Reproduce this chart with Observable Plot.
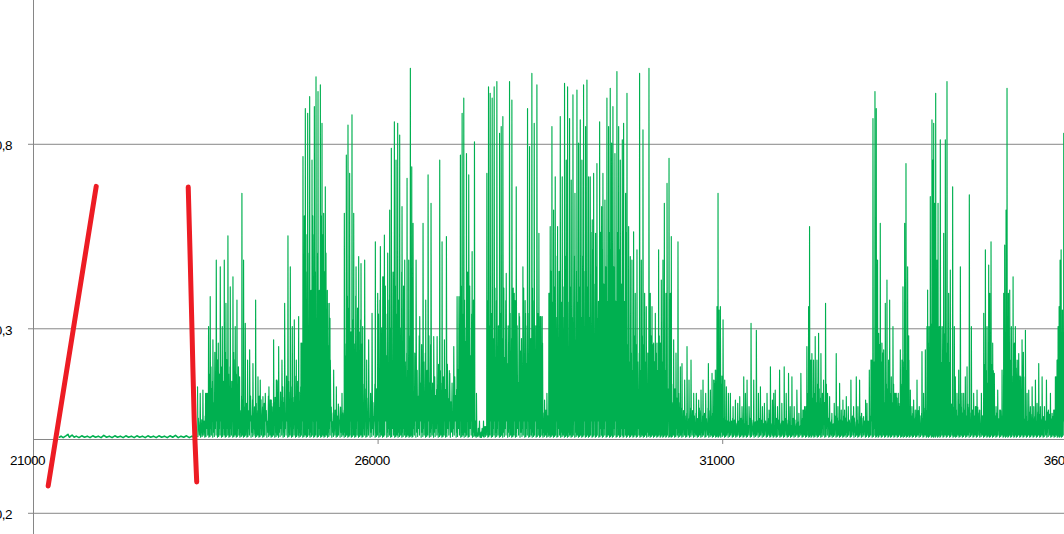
<!DOCTYPE html>
<html><head><meta charset="utf-8">
<script src="https://cdn.jsdelivr.net/npm/d3@7"></script>
<script src="https://cdn.jsdelivr.net/npm/@observablehq/plot@0.6"></script>
<style>html,body{margin:0;padding:0;background:#fff;overflow:hidden}#chart{width:1064px;height:534px;overflow:hidden}</style>
</head><body><div id="chart"></div>
<script>
const xTicks = [21000, 26000, 31000, 36000];
const yTicks = [-0.2, 0.3, 0.8];
const yTickLabels = ["-0,2", "0,3", "0,8"];

// quiet start of the series
const flatSeries = [[21377,0.006],[21400,0.009],[21430,0.005],[21470,0.010],[21500,0.014],[21520,0.006],[21545,0.010],[21560,0.012],[21590,0.006],[21620,0.009],[21660,0.005],[21700,0.010],[21740,0.006],[21780,0.009],[21820,0.005],[21860,0.010],[21900,0.006],[21940,0.009],[21980,0.005],[22020,0.011],[22060,0.006],[22100,0.009],[22140,0.005],[22180,0.010],[22220,0.006],[22260,0.009],[22300,0.005],[22340,0.010],[22380,0.006],[22420,0.009],[22460,0.005],[22500,0.010],[22540,0.006],[22580,0.009],[22620,0.005],[22660,0.010],[22700,0.006],[22740,0.009],[22780,0.005],[22820,0.010],[22860,0.006],[22900,0.009],[22940,0.005],[22980,0.010],[23020,0.006],[23060,0.011],[23100,0.005],[23140,0.009],[23180,0.006],[23220,0.010],[23260,0.005],[23300,0.009],[23340,0.006],[23370,0.008]];

// spike tops
const peaks = [[23380,0.143],[23419,0.125],[23458,0.134],[23497,0.125],[23540,0.306],[23564,0.387],[23603,0.270],[23652,0.486],[23681,0.261],[23710,0.468],[23739,0.306],[23768,0.486],[23792,0.369],[23821,0.552],[23855,0.414],[23894,0.441],[23927,0.306],[23952,0.378],[23990,0.170],[24024,0.667],[24048,0.486],[24073,0.315],[24106,0.215],[24136,0.243],[24184,0.206],[24223,0.378],[24257,0.170],[24290,0.161],[24329,0.116],[24363,0.125],[24416,0.143],[24450,0.107],[24484,0.270],[24523,0.161],[24557,0.252],[24605,0.215],[24644,0.369],[24692,0.552],[24726,0.468],[24755,0.306],[24784,0.324],[24813,0.215],[24847,0.333],[24881,0.261],[24910,0.767],[24944,0.897],[24978,0.884],[25007,0.929],[25041,0.757],[25075,0.902],[25099,0.983],[25128,0.943],[25162,0.961],[25186,0.857],[25210,0.613],[25234,0.685],[25268,0.369],[25307,0.215],[25355,0.188],[25394,0.143],[25428,0.089],[25476,0.125],[25510,0.613],[25539,0.771],[25563,0.852],[25587,0.721],[25621,0.880],[25646,0.613],[25680,0.468],[25718,0.496],[25752,0.477],[25776,0.306],[25805,0.486],[25834,0.215],[25863,0.270],[25912,0.342],[25960,0.536],[25994,0.396],[26033,0.523],[26067,0.441],[26091,0.554],[26139,0.505],[26168,0.622],[26192,0.789],[26236,0.861],[26260,0.757],[26284,0.857],[26313,0.825],[26347,0.631],[26386,0.486],[26420,0.708],[26444,0.486],[26468,1.006],[26488,0.739],[26507,0.586],[26551,0.486],[26604,0.333],[26652,0.586],[26691,0.378],[26725,0.717],[26768,0.640],[26807,0.279],[26856,0.279],[26894,0.757],[26928,0.536],[26962,0.270],[26991,0.550],[27040,0.179],[27098,0.252],[27146,0.387],[27194,0.771],[27219,0.884],[27243,0.925],[27282,0.775],[27315,0.717],[27364,0.509],[27398,0.807],[27427,0.125],[27465,0.017],[27505,0.021],[27539,0.035],
[27578,0.721],[27602,0.956],[27626,0.938],[27655,0.925],[27684,0.956],[27723,0.970],[27762,0.830],[27786,0.848],[27810,0.875],[27859,0.450],[27907,0.970],[27941,0.920],[27975,0.396],[28004,0.685],[28052,0.333],[28101,0.468],[28139,0.342],[28168,0.897],[28197,0.794],[28231,0.992],[28265,0.857],[28304,0.961],[28333,0.559],[28352,0.333],[28386,0.261],[28415,0.107],[28449,0.125],[28478,0.396],[28497,0.577],[28522,0.848],[28546,0.622],[28570,0.712],[28604,0.577],[28643,0.875],[28672,0.712],[28705,0.965],[28730,0.757],[28749,0.956],[28778,0.870],[28802,0.703],[28827,0.934],[28856,0.667],[28885,0.947],[28909,0.803],[28933,0.866],[28957,0.757],[28981,0.961],[29010,0.848],[29030,0.974],[29054,0.712],[29078,0.712],[29107,0.595],[29127,0.721],[29155,0.559],[29175,0.748],[29214,0.861],[29243,0.631],[29262,0.721],[29291,0.649],[29320,0.925],[29344,0.848],[29368,0.952],[29388,0.803],[29407,0.902],[29436,0.775],[29465,0.997],[29490,0.848],[29514,0.757],[29543,0.812],[29562,0.857],[29591,0.667],[29611,0.938],[29635,0.577],[29659,0.496],[29683,0.486],[29707,0.563],[29731,0.396],[29756,0.514],[29794,0.992],[29819,0.486],[29843,0.839],[29867,0.396],[29891,0.360],[29930,1.006],[29949,0.396],[29974,0.360],[29998,0.261],[30022,0.342],[30046,0.261],[30070,0.514],[30095,0.261],[30109,0.432],[30133,0.486],[30153,0.640],[30177,0.396],[30192,0.694],[30221,0.762],[30240,0.396],[30254,0.550],[30288,0.270],[30322,0.234],[30351,0.536],[30385,0.197],[30409,0.206],[30448,0.161],[30482,0.252],[30511,0.161],[30540,0.215],[30579,0.125],[30617,0.125],[30651,0.107],[30685,0.134],[30714,0.161],[30753,0.125],[30792,0.206],[30821,0.134],[30845,0.179],[30869,0.161],[30893,0.188],[30917,0.360],[30932,0.667],[30947,0.351],[30966,0.360],[31005,0.324],[31029,0.161],[31053,0.143],[31082,0.125],[31111,0.125],[31150,0.089],[31184,0.107],[31218,0.098],[31247,0.116],[31280,0.089],[31305,0.170],[31329,0.125],[31353,0.161],[31382,0.089],[31411,0.315],[31450,0.161],[31488,0.296],[31518,0.125],[31547,0.143],[31576,0.089],[31605,0.098],[31643,0.125],[31672,0.080],[31692,0.197],[31721,0.107],[31740,0.125],
[31762,0.134],[31795,0.089],[31825,0.188],[31858,0.098],[31892,0.197],[31921,0.125],[31955,0.179],[31979,0.089],[32004,0.170],[32037,0.089],[32076,0.134],[32105,0.071],[32134,0.179],[32163,0.080],[32188,0.089],[32221,0.252],[32246,0.360],[32260,0.577],[32279,0.215],[32294,0.233],[32318,0.215],[32342,0.279],[32367,0.215],[32391,0.288],[32425,0.233],[32463,0.161],[32492,0.369],[32521,0.125],[32551,0.116],[32584,0.071],[32618,0.098],[32647,0.233],[32672,0.089],[32696,0.152],[32720,0.080],[32744,0.107],[32768,0.080],[32793,0.116],[32822,0.089],[32860,0.161],[32899,0.089],[32938,0.170],[32962,0.089],[32986,0.161],[33015,0.071],[33044,0.062],[33073,0.107],[33093,0.098],[33127,0.188],[33151,0.215],[33180,0.870],[33209,0.943],[33228,0.897],[33247,0.486],[33262,0.288],[33286,0.586],[33310,0.261],[33335,0.243],[33359,0.369],[33383,0.432],[33407,0.215],[33422,0.378],[33446,0.170],[33470,0.306],[33494,0.125],[33518,0.125],[33552,0.098],[33577,0.243],[33601,0.215],[33615,0.414],[33640,0.586],[33659,0.748],[33683,0.468],[33702,0.215],[33722,0.134],[33746,0.089],[33770,0.107],[33794,0.080],[33819,0.161],[33852,0.089],[33891,0.238],[33915,0.125],[33940,0.243],[33964,0.306],[33973,0.405],[33993,0.306],[34012,0.658],[34036,0.866],[34051,0.757],[34061,0.857],[34075,0.640],[34090,0.938],[34109,0.486],[34124,0.640],[34143,0.306],[34157,0.812],[34182,0.306],[34206,0.559],[34230,0.812],[34254,0.970],[34278,0.396],[34302,0.459],[34336,0.685],[34361,0.306],[34375,0.170],[34399,0.125],[34424,0.188],[34448,0.468],[34472,0.125],[34496,0.125],[34520,0.170],[34545,0.197],[34578,0.663],[34608,0.306],[34641,0.125],[34666,0.089],[34690,0.134],[34724,0.080],[34753,0.125],[34787,0.342],[34811,0.514],[34835,0.306],[34859,0.473],[34874,0.396],[34893,0.536],[34917,0.261],[34941,0.179],[34966,0.089],[34990,0.134],[35019,0.080],[35053,0.188],[35077,0.396],[35091,0.527],[35111,0.622],[35125,0.952],[35145,0.396],[35164,0.405],[35188,0.306],[35213,0.441],[35232,0.261],[35246,0.306],[35271,0.215],[35295,0.233],[35319,0.170],[35343,0.270],[35367,0.170],[35392,0.296],[35416,0.125],[35440,0.134],[35464,0.089],[35489,0.143],[35513,0.089],[35537,0.161],[35561,0.098],[35585,0.206],[35609,0.089],[35634,0.170],[35668,0.089],[35697,0.161],[35726,0.080],[35755,0.125],[35779,0.071],[35803,0.080],[35827,0.170],[35851,0.215],[35866,0.306],[35881,0.360],[35895,0.486],[35910,0.514],[35929,0.351],[35948,0.830]];

// top of the dense band, by stretch of x
const bodyStart = [23370,23516,24000,24484,24871,25307,25500,25790,25984,26372,26759,27146,27412,27557,28400,28473,29078,29611,30192,30385,30869,31014,32173,32512,33141,33335,33625,33698,33964,34302,34787,34932,35077,35367,35803];
const bodyLevel = [0.053,0.197,0.098,0.143,0.505,0.080,0.324,0.125,0.378,0.234,0.170,0.378,0.012,0.342,0.080,0.414,0.468,0.234,0.125,0.071,0.215,0.048,0.125,0.053,0.234,0.125,0.234,0.071,0.261,0.080,0.170,0.071,0.215,0.062,0.215];
// relative heights of the small strokes inside the dense band, and the floor they fall back to
const bandShape = [1.1, 0.6, 0.9, 0.45, 1.0, 0.7, 0.8, 0.5, 1.2, 0.65];
const troughs = [0.008, 0.03, 0.012, 0.05, 0.006, 0.02];

// hand-drawn red strokes
const markA = [[21213,-0.126],[21910,0.686]];
const markB = [[23245,0.684],[23274,0.486],[23303,0.270],[23332,0.053],[23368,-0.115]];

function bodyAt(x) {
  let v = bodyLevel[0];
  for (let k = 0; k < bodyStart.length; k++) if (x >= bodyStart[k]) v = bodyLevel[k];
  return v;
}
const series = [];
let s = 0, t = 0;
for (let i = 0; i < peaks.length; i++) {
  const [a, p] = peaks[i];
  series.push({x: a, y: p});
  if (i + 1 < peaks.length) {
    const b = peaks[i + 1][0], d = b - a, body = bodyAt((a + b) / 2);
    const n = d > 30 ? 3 : 2; // strokes in the gap
    for (let k = 0; k < n; k++) {
      const f0 = (2 * k + 1) / (2 * n + 1), f1 = (2 * k + 2) / (2 * n + 1);
      series.push({x: a + d * f0, y: troughs[t++ % troughs.length]});
      series.push({x: a + d * f1, y: Math.min(p, body * bandShape[s++ % bandShape.length])});
    }
    series.push({x: b - d / (2 * n + 1) * 0.5, y: troughs[t++ % troughs.length]});
  }
}

const gray = "#868686";
const chart = Plot.plot({
  width: 1064, height: 534,
  marginLeft: 33, marginRight: 0, marginTop: 0, marginBottom: 0,
  x: {domain: [21000, 35959], axis: null},
  y: {domain: [-0.2575, 1.1897], axis: null},
  style: {fontFamily: "'Liberation Sans', Arial, sans-serif", fontSize: "13.5px", letterSpacing: "-0.5px", background: "#fff", overflow: "hidden"},
  marks: [
    Plot.ruleY(yTicks, {stroke: gray, strokeWidth: 1, insetLeft: -5}),
    Plot.ruleY([0], {stroke: gray, strokeWidth: 1}),
    Plot.ruleX([21000], {stroke: gray, strokeWidth: 1}),
    Plot.ruleX(xTicks, {x: d => d, y1: () => 0, y2: () => 0, insetTop: 0, insetBottom: -5, stroke: gray, strokeWidth: 1}),
    Plot.line(flatSeries, {x: d => d[0], y: d => d[1], stroke: "#00b050", strokeWidth: 1.6}),
    Plot.line(series, {x: "x", y: "y", stroke: "#00b050", strokeWidth: 1.15, clip: true}),
    Plot.line(markA, {x: d => d[0], y: d => d[1], stroke: "#ed1c24", strokeWidth: 5}),
    Plot.line(markB, {x: d => d[0], y: d => d[1], stroke: "#ed1c24", strokeWidth: 5, curve: "catmull-rom"}),
    Plot.text(xTicks, {x: d => d, y: 0, text: d => String(d), dy: 21, dx: -6, fill: "#000"}),
    Plot.text(yTicks, {frameAnchor: "left", y: d => d, text: (d, i) => yTickLabels[i], textAnchor: "end", dx: -21.5, dy: 1.5, fill: "#000"})
  ]
});
document.getElementById("chart").appendChild(chart);
</script>
</body></html>
